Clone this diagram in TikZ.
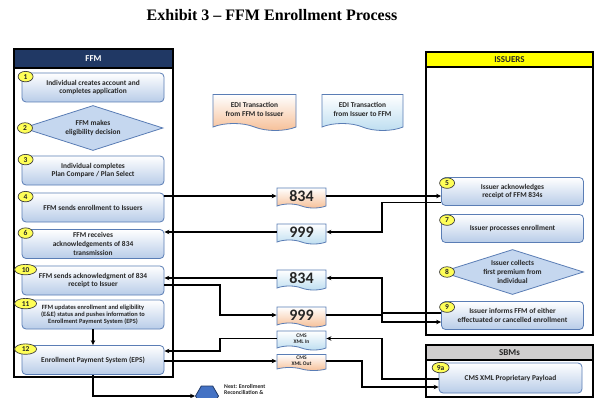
\documentclass[tikz,border=0pt]{standalone}
\usepackage{fontspec}
\setmainfont{Carlito}
\newfontfamily\titlefont{Liberation Serif}
\usetikzlibrary{shapes.geometric, shapes.symbols, arrows.meta, calc, positioning}
\definecolor{ffmhead}{HTML}{203864}
\definecolor{isshead}{HTML}{FFFF00}
\definecolor{sbmhead}{HTML}{D0CECE}
\definecolor{bxline}{HTML}{5A7DB5}
\definecolor{bxfill}{HTML}{B8CCE8}
\definecolor{dmfill}{HTML}{C5D7EF}
\definecolor{numfill}{HTML}{FFFF57}
\definecolor{ediout}{HTML}{F6BE95}
\definecolor{ediin}{HTML}{BCDDF0}
\definecolor{hexfill}{HTML}{4472C4}
\definecolor{txt}{HTML}{262626}

\begin{document}
\begin{tikzpicture}[x=1pt,y=-1pt,
  every node/.style={font=\fontsize{7.4}{8.6}\selectfont\bfseries, text=txt},
  panel/.style={draw=black, line width=1.2pt},
  stepbox/.style={draw=bxline, line width=0.8pt, rounded corners=4pt,
    top color=white, bottom color=bxfill, minimum width=142pt,
    minimum height=29pt, align=center, inner sep=0.5pt},
  decide/.style={diamond, aspect=3.5, draw=bxline, line width=0.8pt,
    fill=dmfill, minimum width=140pt, minimum height=45pt, align=center,
    inner sep=0pt},
  num/.style={ellipse, draw=black!75, line width=0.7pt, fill=numfill,
    minimum width=15pt, minimum height=10.5pt, inner sep=0.3pt,
    font=\fontsize{7.5}{8}\selectfont\bfseries},
  edi/.style={tape, tape bend top=none, tape bend bottom=out and in,
    tape bend height=4pt, draw=bxline, line width=0.8pt, top color=white,
    bottom color=#1, minimum width=49pt, minimum height=20pt, inner sep=0pt,
    align=center, font=\fontsize{16}{17}\selectfont\bfseries},
  flow/.style={-{Stealth[length=5pt,width=4.5pt]}, line width=1.1pt, black}]
  \clip (0,0) rectangle (599,398);
  \fill[white] (0,0) rectangle (599,398);

  \node[font=\titlefont\fontsize{16}{18}\selectfont\bfseries, text=black]
    (title) at (272,15) {Exhibit 3 – FFM Enrollment Process};

  % panels
  \draw[panel] (14,49) rectangle (173,377);
  \filldraw[panel, fill=ffmhead] (14,49) rectangle (173,68);
  \node[text=white, font=\fontsize{9}{10}\selectfont\bfseries] (ffm) at (93.5,58.5) {FFM};
  \draw[panel] (426,52) rectangle (593,335);
  \filldraw[panel, fill=isshead] (426,52) rectangle (593,67);
  \node[font=\fontsize{9}{10}\selectfont\bfseries] (iss) at (509.5,59.5) {ISSUERS};
  \draw[panel] (426,345) rectangle (593,397);
  \filldraw[panel, fill=sbmhead] (426,345) rectangle (593,360);
  \node[font=\fontsize{9}{10}\selectfont\bfseries] (sbm) at (509.5,352.5) {SBMs};

  % FFM steps
  \foreach \n/\y/\w/\t in {1/87.5/15/{Individual creates account and\\completes application},
      3/170.5/15/{Individual completes\\Plan Compare / Plan Select},
      4/207.5/15/{FFM sends enrollment to Issuers},
      6/244/15/{FFM receives\\acknowledgements of 834\\transmission},
      10/280.5/22/{FFM sends acknowledgment of 834\\receipt to Issuer},
      12/360/22/{Enrollment Payment System (EPS)}} {
    \node[stepbox] (s\n) at (93,\y) {\t};
    \node[num, minimum width=\w] (n\n) at ([xshift=4pt,yshift=-4pt]s\n.north west) {\n};
  }
  \node[stepbox, font=\fontsize{6.4}{7.2}\selectfont\bfseries] (s11) at (93,314.5)
    {FFM updates enrollment and eligibility\\(E\&E) status and pushes information to\\Enrollment Payment System (EPS)};
  \node[num, minimum width=22] (n11) at ([xshift=4pt,yshift=-4pt]s11.north west) {11};
  \node[decide] (d2) at (93,128) {FFM makes\\eligibility decision};
  \node[num] (n2) at (25,128) {2};

  % issuer steps
  \foreach \n/\y/\t in {5/191.5/{Issuer acknowledges\\receipt of FFM 834s},
      7/228.5/{Issuer processes enrollment},
      9/315.5/{Issuer informs FFM of either\\effectuated or cancelled enrollment}} {
    \node[stepbox, minimum height=28pt] (i\n) at (512.5,\y) {\t};
    \node[num] (n\n) at ([xshift=6pt,yshift=-6pt]i\n.north west) {\n};
  }
  \node[decide, minimum width=142pt] (d8) at (512.5,272) {Issuer collects\\first premium from\\individual};
  \node[num] (n8) at (447,272) {8};
  \node[stepbox, minimum width=143pt, minimum height=30pt] (s9a) at (510.5,378) {CMS XML Proprietary Payload};
  \node[num, minimum width=17] (n9a) at ([xshift=2pt,yshift=-5pt]s9a.north west) {9a};

  % EDI legend and transactions
  \node[edi=ediout, minimum width=83pt, minimum height=36pt, tape bend height=7pt,
    font=\fontsize{7.4}{9}\selectfont\bfseries] (legout) at (254.5,109) {EDI Transaction\\from FFM to Issuer};
  \node[edi=ediin, minimum width=81pt, minimum height=36pt, tape bend height=7pt,
    font=\fontsize{7.4}{9}\selectfont\bfseries] (legin) at (362.5,109) {EDI Transaction\\from Issuer to FFM};
  \node[edi=ediout] (o834) at (301.5,196) {834};
  \node[edi=ediin] (b999) at (301.5,232) {999};
  \node[edi=ediin] (b834) at (301.5,278) {834};
  \node[edi=ediout] (o999) at (301.5,315) {999};
  \node[edi=ediin, minimum height=19pt, font=\fontsize{5.5}{6.3}\selectfont\bfseries] (cmsin) at (301.5,338.5) {CMS\\XML In};
  \node[edi=ediout, minimum height=16pt, tape bend height=3pt,
    font=\fontsize{5.5}{6.3}\selectfont\bfseries] (cmsout) at (301.5,361) {CMS\\XML Out};

  \node[regular polygon, regular polygon sides=6, draw=ffmhead, line width=0.8pt,
    fill=hexfill, minimum size=23pt] (next) at (207,396) {};
  \node[anchor=north west, align=left, inner sep=0pt, font=\fontsize{5.8}{6.6}\selectfont\bfseries]
    (nexttxt) at (224,384) {Next: Enrollment\\Reconciliation \&};

  % connectors
  \coordinate (lx) at (220,0);
  \coordinate (rx) at (382,0);
  \coordinate (mx) at (362,0);
  \coordinate (i9lo) at ([yshift=-6.5pt]i9.west);
  \coordinate (s12hi) at ([yshift=9pt]s12.east);
  \coordinate (s9alo) at ([yshift=-9pt]s9a.west);
  \draw[flow] (s4.east |- o834) -- (o834.west);
  \draw[flow] (o834.east) -- (o834.east -| i5.west);
  \draw[flow] ([yshift=-11pt]i5.west) -| (rx |- b999) -- (b999.east);
  \draw[flow] (b999.west) -- (b999.west -| s6.east);
  \draw[flow] ([yshift=2.5pt]i9.west) -| (rx |- b834) -- (b834.east);
  \draw[flow] (b834.west) -- (b834.west -| s10.east);
  \draw[flow] ([yshift=-4.5pt]s10.east) -| (lx |- o999) -- (o999.west);
  \draw[flow] (o999.east) -| (rx |- i9lo) -- (i9lo);
  \draw[flow] ([yshift=-1pt]s9a.west) -| (rx |- cmsin) -- (cmsin.east);
  \draw[flow] (cmsin.west) -| (lx |- s12hi) -- (s12hi);
  \draw[flow] (s12.east |- cmsout) -- (cmsout.west);
  \draw[flow] (cmsout.east) -| (mx |- s9alo) -- (s9alo);
  \draw[flow] (s11) -- (s12);
  \draw[flow] (s12.south) |- (next.west);
\end{tikzpicture}
\end{document}
